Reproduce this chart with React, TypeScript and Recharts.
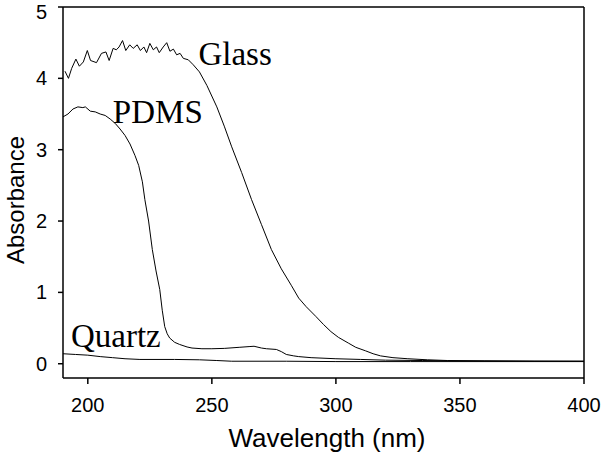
import { Label, Line, LineChart, ReferenceDot, ReferenceLine, XAxis, YAxis } from 'recharts'

const X_TICKS = [200, 250, 300, 350, 400]
const Y_TICKS = [0, 1, 2, 3, 4, 5]

const glassWl = [
  190.8, 192.2, 193.5, 195.2, 196.6, 198.2, 199.8, 201.1, 203.5, 205.5, 207.3, 208.6, 210.2, 211.5, 212.6,
  214.0, 215.3, 216.9, 218.3, 219.9, 221.2, 222.6, 223.7, 225.0, 226.4, 227.7, 228.8, 230.4, 231.8, 233.1,
  234.5, 235.8, 237.2, 238.5, 240.5, 242.5, 245, 248, 252, 255, 258, 262, 266, 270, 274, 278, 282, 285, 288,
  292, 295, 298, 301, 305, 308, 312, 315, 318, 323, 329, 337, 345, 360, 380, 400,
]
const glassAbs = [
  4.10, 4.00, 4.14, 4.27, 4.17, 4.23, 4.39, 4.25, 4.22, 4.35, 4.37, 4.25, 4.42, 4.40, 4.44,
  4.53, 4.39, 4.47, 4.42, 4.47, 4.39, 4.44, 4.36, 4.49, 4.40, 4.44, 4.36, 4.44, 4.50, 4.38,
  4.41, 4.33, 4.35, 4.28, 4.26, 4.19, 4.09, 3.9, 3.6, 3.33, 3.04, 2.68, 2.3, 1.95, 1.6, 1.33, 1.1, 0.92, 0.8,
  0.66, 0.55, 0.45, 0.37, 0.29, 0.23, 0.18, 0.14, 0.11, 0.085, 0.07, 0.055, 0.045, 0.04, 0.035, 0.035,
]

const pdmsWl = [
  190, 192, 194, 196, 198, 199, 201, 203, 205, 207, 209, 211, 213, 215, 217, 219, 220.5, 222, 223, 224.5,
  226, 227.5, 229, 230, 231, 232, 233, 235, 237, 240, 242, 246, 250, 255, 261, 265, 267, 270, 272, 276,
  278, 280, 283, 285, 290, 300, 310, 320, 335, 350, 400,
]
const pdmsAbs = [
  3.46, 3.5, 3.57, 3.6, 3.59, 3.6, 3.54, 3.53, 3.5, 3.48, 3.43, 3.37, 3.29, 3.2, 3.08, 2.92, 2.78, 2.55, 2.3, 2.0,
  1.6, 1.3, 1.04, 0.75, 0.52, 0.42, 0.36, 0.3, 0.27, 0.235, 0.22, 0.21, 0.21, 0.215, 0.23, 0.24, 0.245, 0.22, 0.21, 0.2,
  0.17, 0.13, 0.11, 0.1, 0.085, 0.07, 0.06, 0.05, 0.045, 0.04, 0.035,
]

const quartzWl = [190, 195, 200, 205, 210, 215, 221, 235, 245, 252, 258, 280, 300, 330, 400]
const quartzAbs = [0.14, 0.13, 0.12, 0.1, 0.085, 0.07, 0.06, 0.06, 0.055, 0.045, 0.035, 0.035, 0.03, 0.03, 0.03]

const toPoints = (wl: number[], abs: number[]) => wl.map((w, i) => ({ wl: w, abs: abs[i] }))

const SERIES = [
  { key: 'glass', data: toPoints(glassWl, glassAbs), label: 'Glass', at: [244.6, 4.19] },
  { key: 'pdms', data: toPoints(pdmsWl, pdmsAbs), label: 'PDMS', at: [210.1, 3.375] },
  { key: 'quartz', data: toPoints(quartzWl, quartzAbs), label: 'Quartz', at: [193.2, 0.238] },
]

const SANS = '"Liberation Sans", Arial, sans-serif'
const SERIF = '"Liberation Serif", "Times New Roman", serif'

function SeriesName({ viewBox, value }: any) {
  if (!viewBox) return null
  const x = viewBox.cx ?? viewBox.x
  const y = viewBox.cy ?? viewBox.y
  return (
    <text x={x} y={y} fontFamily={SERIF} fontSize={33} fill="#000" textAnchor="start">{value}</text>
  )
}

export default function App() {
  return (
    <div style={{ position: 'absolute', left: 0, top: 0, background: '#fff' }}>
      <LineChart width={601} height={462} margin={{ top: 7, right: 17, left: 0, bottom: 0 }}>
        <XAxis
          type="number" dataKey="wl" domain={[190, 400]} ticks={X_TICKS} allowDataOverflow
          height={84} stroke="#000" strokeWidth={1.5} tickSize={6} tickMargin={14}
          tick={{ fontSize: 20, fontFamily: SANS, fill: '#000' }}
        >
          <Label
            content={() => (
              <text x={327} y={447} textAnchor="middle" fontFamily={SANS} fontSize={26} fill="#000">Wavelength (nm)</text>
            )}
          />
        </XAxis>
        <YAxis
          type="number" dataKey="abs" domain={[-0.2, 5]} ticks={Y_TICKS} allowDataOverflow
          width={63} stroke="#000" strokeWidth={1.5} tickSize={5} tickMargin={11}
          tick={{ fontSize: 20, fontFamily: SANS, fill: '#000' }}
        >
          <Label
            content={() => (
              <text x={24} y={200} transform="rotate(-90 24 200)" textAnchor="middle" fontFamily={SANS} fontSize={24} fill="#000">Absorbance</text>
            )}
          />
        </YAxis>
        <ReferenceLine y={5} stroke="#000" strokeWidth={1.5} />
        <ReferenceLine x={400} stroke="#000" strokeWidth={1.5} />
        {SERIES.map(s => (
          <Line
            key={s.key} data={s.data} dataKey="abs" type="linear" stroke="#000" strokeWidth={1}
            dot={false} isAnimationActive={false}
          />
        ))}
        {SERIES.map(s => (
          <ReferenceDot
            key={s.key + '-label'} x={s.at[0]} y={s.at[1]} r={0} stroke="none" fill="none"
            label={<SeriesName value={s.label} />}
          />
        ))}
      </LineChart>
    </div>
  )
}
